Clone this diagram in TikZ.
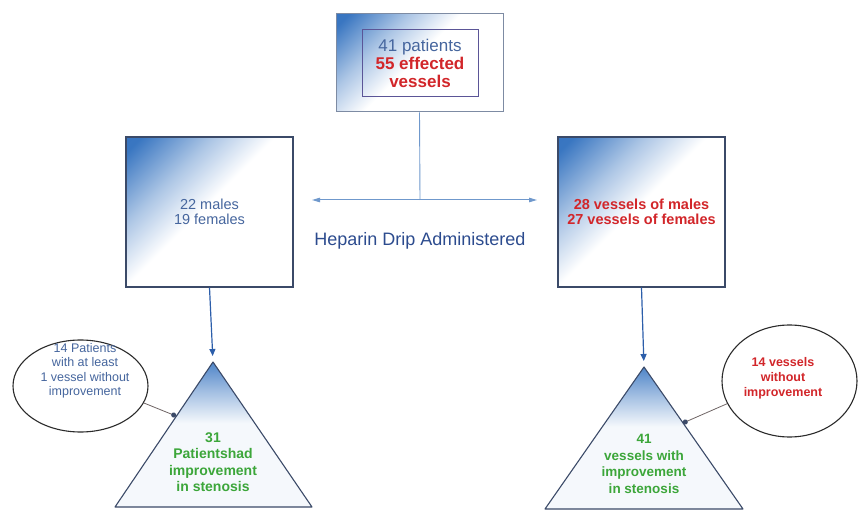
\documentclass[tikz,border=0pt]{standalone}
\usepackage{fontspec}
\setmainfont{Liberation Sans}
\usetikzlibrary{arrows.meta, shapes.geometric}
\definecolor{edge}{HTML}{3B4A68}
\definecolor{frame}{HTML}{7D8BA3}
\definecolor{inner}{HTML}{5B5597}
\definecolor{fadeblue}{HTML}{2F6FBE}
\definecolor{txtblue}{HTML}{46669E}
\definecolor{txtred}{HTML}{D2262A}
\definecolor{txtgreen}{HTML}{3CA63A}
\definecolor{dripblue}{HTML}{2C4B8E}
\definecolor{linkblue}{HTML}{2C5EAA}
\definecolor{armblue}{HTML}{6F98CC}
\definecolor{ring}{HTML}{2B2B2B}
\definecolor{tiecolor}{HTML}{6E6464}
\pgfdeclareverticalshading{boxfade}{100bp}{color(0bp)=(white); color(52bp)=(white); color(66bp)=(fadeblue!40); color(82bp)=(fadeblue!95); color(100bp)=(fadeblue)}
\pgfdeclareverticalshading{apexfade}{100bp}{color(0bp)=(fadeblue!5); color(54bp)=(fadeblue!5); color(65bp)=(fadeblue!45); color(75bp)=(fadeblue!85); color(100bp)=(fadeblue!85)}

\begin{document}
\begin{tikzpicture}[
    x=1pt, y=-1pt,
    every node/.style={font=\fontsize{14.5}{15}\selectfont, align=center},
    box/.style={rectangle, draw=edge, line width=1.1pt, shading=boxfade, shading angle=45},
    tri/.style={draw=edge, line width=1.1pt, line join=round, shading=apexfade},
    bubble/.style={ellipse, draw=ring, line width=1.1pt, fill=white},
    down/.style={linkblue, line width=1.2pt, -{Triangle[length=7pt, width=6pt]}, shorten >=6pt},
    tie/.style={tiecolor, line width=0.8pt, -{Circle[length=5pt, color=edge]}},
    gain/.style={text=txtgreen, font=\bfseries\fontsize{13.5}{16.5}\selectfont},
]
\useasboundingbox (0,0) rectangle (859,510);

% ============================================================ the whole cohort
\node[rectangle, draw=frame, line width=1pt, shading=boxfade, shading angle=45,
      minimum width=167pt, minimum height=98pt] (cohort) at (419.5, 63) {};
\node[rectangle, draw=inner, line width=0.8pt, minimum width=116pt, minimum height=67pt,
      font=\fontsize{17}{18}\selectfont] (counts) at (420, 63)
    {\textcolor{txtblue}{41 patients}\\ \textcolor{txtred}{\bfseries 55 effected}\\
     \textcolor{txtred}{\bfseries vessels}};

% split to both sides
\coordinate (split) at (420, 200);
\coordinate (armL) at (312, 200);
\coordinate (armR) at (537, 200);
\draw[armblue, line width=0.9pt] (cohort.south) -- (split);
\draw[armblue, line width=1pt, {Triangle[length=8pt, width=4.5pt]}-{Triangle[length=8pt, width=4.5pt]}]
    (armL) -- (armR);
\node[text=dripblue, font=\fontsize{18}{19}\selectfont] (drip) at (420, 241)
    {Heparin Drip Administered};

% ============================================================ patients (left)
\node[box, minimum width=167pt, minimum height=150pt, text=txtblue] (sexes) at (209.5, 212)
    {22 males\\ 19 females};

\coordinate (ltop) at (213, 362);
\draw[tri] (ltop) -- (312, 507) -- (115, 507) -- cycle;
\draw[down] (sexes.south) -- (ltop);
\node[gain, font=\bfseries\fontsize{14}{16.5}\selectfont] (ptsgain) at (213, 462)
    {31\\ Patientshad\\ improvement\\ in stenosis};

\node[bubble, minimum width=135pt, minimum height=92pt] (ptsloss) at (80.5, 386) {};
\node[text=txtblue, font=\fontsize{12.5}{14.5}\selectfont] (ptslosstext) at (85, 371)
    {14 Patients\\ with at least\\ 1 vessel without\\ improvement};
\coordinate (ptsdot) at (176, 416);
\draw[tie] (ptsloss.-15) -- (ptsdot);

% ============================================================ vessels (right)
\node[box, minimum width=167pt, minimum height=150pt, text=txtred,
      font=\bfseries\fontsize{14.5}{15}\selectfont] (vesselsex) at (641.5, 212)
    {28 vessels of males\\ 27 vessels of females};

\coordinate (rtop) at (644, 367);
\draw[tri] (rtop) -- (743, 509) -- (545, 509) -- cycle;
\draw[down] (vesselsex.south) -- (rtop);
\node[gain] (vesgain) at (644, 464) {41\\ vessels with\\ improvement\\ in stenosis};

\node[bubble, minimum width=135pt, minimum height=112pt] (vesloss) at (789.5, 381) {};
\node[text=txtred, font=\bfseries\fontsize{12.5}{15}\selectfont] (veslosstext) at (783, 378)
    {14 vessels\\ without\\ improvement};
\coordinate (vesdot) at (683, 423);
\draw[tie] (vesloss.200) -- (vesdot);

\end{tikzpicture}
\end{document}
